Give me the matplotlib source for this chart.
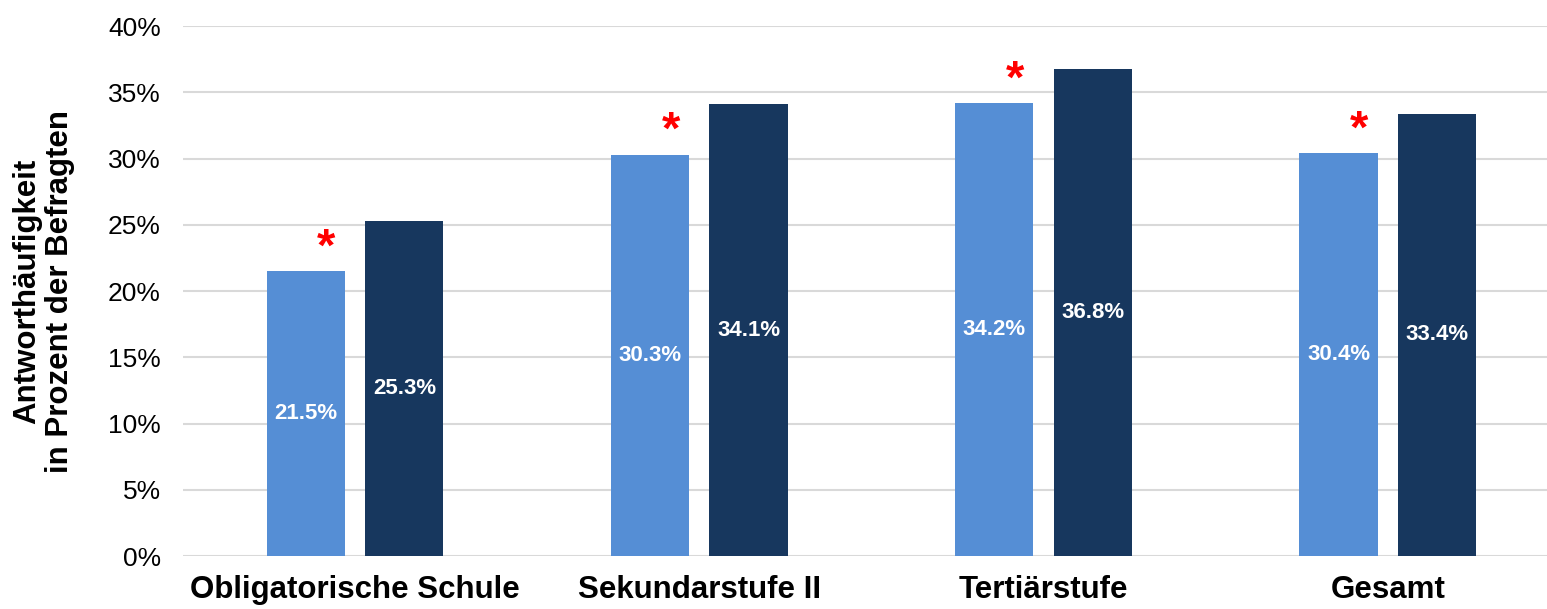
import numpy as np
import matplotlib.pyplot as plt
from matplotlib.ticker import PercentFormatter

categories = ['Obligatorische Schule', 'Sekundarstufe II', 'Tertiärstufe', 'Gesamt']
light_values = [21.5, 30.3, 34.2, 30.4]
dark_values = [25.3, 34.1, 36.8, 33.4]

plt.rcParams['font.family'] = ['Liberation Sans', 'DejaVu Sans']

fig = plt.figure(figsize=(15.47, 6.09), dpi=100)
ax = fig.add_axes([0.1183, 0.087, 0.89, 0.870])

x = np.arange(len(categories))
width = 0.227
offset = 0.143

light = ax.bar(x - offset, light_values, width, color='#558ED5', zorder=3)
dark = ax.bar(x + offset, dark_values, width, color='#17375E', zorder=3)

# value labels in the middle of each bar
for bars, vals in [(light, light_values), (dark, dark_values)]:
    for b, v in zip(bars, vals):
        ax.text(b.get_x() + b.get_width() / 2, v / 2, f'{v:.1f}%',
                ha='center', va='center', color='white',
                fontsize=16, fontweight='bold', zorder=4)

# significance stars next to the light bars
for xi, v in zip(x, light_values):
    ax.text(xi - offset + 0.06, v + 0.8, '*', ha='center', va='baseline',
            color='#FF0000', fontsize=34, fontweight='bold', zorder=4)

ax.set_xlim(-0.5, len(categories) - 0.5)
ax.set_ylim(0, 40)
ax.set_yticks(np.arange(0, 41, 5))
ax.yaxis.set_major_formatter(PercentFormatter(decimals=0))
ax.set_xticks(x)
ax.set_xticklabels(categories, fontsize=22.5, fontweight='bold')
ax.tick_params(axis='y', labelsize=19, length=0, pad=16)
ax.tick_params(axis='x', length=0, pad=14)

ax.grid(axis='y', color='#D9D9D9', linewidth=1.5, zorder=0)
for s in ax.spines.values():
    s.set_visible(False)

ax.set_ylabel('Antworthäufigkeit\nin Prozent der Befragten', fontsize=22.5,
              fontweight='bold', labelpad=24, linespacing=1.1)

fig.savefig('out.png', dpi=100)
